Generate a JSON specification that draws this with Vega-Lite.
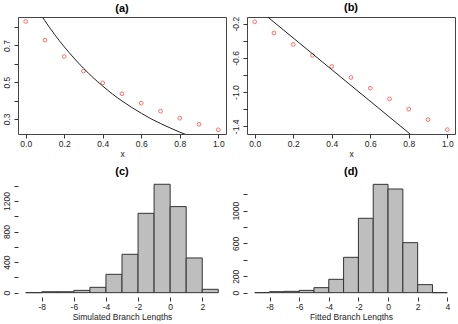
{
  "$schema": "https://vega.github.io/schema/vega-lite/v6.json",
  "padding": {"left": 1, "top": 1, "right": 0, "bottom": 0},
  "background": "white",
  "datasets": {
    "pts": [
      {"x": 0.0, "a": 0.831, "b": -0.177},
      {"x": 0.1, "a": 0.729, "b": -0.309},
      {"x": 0.2, "a": 0.640, "b": -0.442},
      {"x": 0.3, "a": 0.561, "b": -0.571},
      {"x": 0.4, "a": 0.496, "b": -0.700},
      {"x": 0.5, "a": 0.437, "b": -0.829},
      {"x": 0.6, "a": 0.386, "b": -0.954},
      {"x": 0.7, "a": 0.342, "b": -1.079},
      {"x": 0.8, "a": 0.304, "b": -1.200},
      {"x": 0.9, "a": 0.271, "b": -1.322},
      {"x": 1.0, "a": 0.241, "b": -1.439}
    ],
    "curveA": [
      {"x": 0.05, "y": 0.914}, {"x": 0.10, "y": 0.834}, {"x": 0.15, "y": 0.760},
      {"x": 0.20, "y": 0.693}, {"x": 0.25, "y": 0.632}, {"x": 0.30, "y": 0.576},
      {"x": 0.35, "y": 0.525}, {"x": 0.40, "y": 0.479}, {"x": 0.45, "y": 0.436},
      {"x": 0.50, "y": 0.398}, {"x": 0.55, "y": 0.363}, {"x": 0.60, "y": 0.331},
      {"x": 0.65, "y": 0.301}, {"x": 0.70, "y": 0.275}, {"x": 0.75, "y": 0.251},
      {"x": 0.80, "y": 0.228}, {"x": 0.85, "y": 0.208}
    ],
    "lineB": [
      {"x": 0.0, "y": 0.003},
      {"x": 0.85, "y": -1.570}
    ],
    "histC": [
      {"start": -9, "end": -8, "count": 0},
      {"start": -8, "end": -7, "count": 12},
      {"start": -7, "end": -6, "count": 12},
      {"start": -6, "end": -5, "count": 30},
      {"start": -5, "end": -4, "count": 70},
      {"start": -4, "end": -3, "count": 240},
      {"start": -3, "end": -2, "count": 502},
      {"start": -2, "end": -1, "count": 1038},
      {"start": -1, "end": 0, "count": 1418},
      {"start": 0, "end": 1, "count": 1126},
      {"start": 1, "end": 2, "count": 454},
      {"start": 2, "end": 3, "count": 44}
    ],
    "histD": [
      {"start": -9, "end": -8, "count": 0},
      {"start": -8, "end": -7, "count": 12},
      {"start": -7, "end": -6, "count": 16},
      {"start": -6, "end": -5, "count": 28},
      {"start": -5, "end": -4, "count": 61},
      {"start": -4, "end": -3, "count": 163},
      {"start": -3, "end": -2, "count": 431},
      {"start": -2, "end": -1, "count": 907},
      {"start": -1, "end": 0, "count": 1321},
      {"start": 0, "end": 1, "count": 1264},
      {"start": 1, "end": 2, "count": 610},
      {"start": 2, "end": 3, "count": 98},
      {"start": 3, "end": 4, "count": 0}
    ]
  },
  "columns": 2,
  "bounds": "flush",
  "spacing": {"row": 46, "column": 21},
  "concat": [
    {
      "width": 208, "height": 117,
      "title": {"text": "(a)"},
      "view": {"stroke": "#444", "strokeWidth": 1},
      "layer": [
        {
          "data": {"name": "pts"},
          "mark": {"type": "point", "shape": "circle", "filled": false, "color": "#ff3030", "size": 14, "strokeWidth": 1},
          "encoding": {
            "x": {"field": "x", "type": "quantitative",
                  "scale": {"domain": [-0.04, 1.04], "nice": false, "zero": false},
                  "axis": {"title": "x", "values": [0, 0.2, 0.4, 0.6, 0.8, 1.0], "format": ".1f", "domain": false}},
            "y": {"field": "a", "type": "quantitative",
                  "scale": {"domain": [0.218, 0.855], "nice": false, "zero": false},
                  "axis": {"title": null, "values": [0.3, 0.4, 0.5, 0.6, 0.7, 0.8], "format": ".1f", "domain": false,
                           "labelExpr": "indexof([3, 5, 7], round(datum.value*10)) >= 0 ? datum.label : ''"}}
          }
        },
        {
          "data": {"name": "curveA"},
          "mark": {"type": "line", "color": "#222", "strokeWidth": 1, "clip": true, "interpolate": "monotone"},
          "encoding": {
            "x": {"field": "x", "type": "quantitative",
                  "axis": {"title": "x", "values": [0, 0.2, 0.4, 0.6, 0.8, 1.0], "format": ".1f", "domain": false}},
            "y": {"field": "y", "type": "quantitative",
                  "axis": {"title": null, "values": [0.3, 0.4, 0.5, 0.6, 0.7, 0.8], "format": ".1f", "domain": false,
                           "labelExpr": "indexof([3, 5, 7], round(datum.value*10)) >= 0 ? datum.label : ''"}}
          }
        }
      ]
    },
    {
      "width": 208, "height": 117,
      "title": {"text": "(b)"},
      "view": {"stroke": "#444", "strokeWidth": 1},
      "layer": [
        {
          "data": {"name": "pts"},
          "mark": {"type": "point", "shape": "circle", "filled": false, "color": "#ff3030", "size": 14, "strokeWidth": 1},
          "encoding": {
            "x": {"field": "x", "type": "quantitative",
                  "scale": {"domain": [-0.04, 1.04], "nice": false, "zero": false},
                  "axis": {"title": "x", "values": [0, 0.2, 0.4, 0.6, 0.8, 1.0], "format": ".1f", "domain": false}},
            "y": {"field": "b", "type": "quantitative",
                  "scale": {"domain": [-1.49, -0.122], "nice": false, "zero": false},
                  "axis": {"title": null, "values": [-1.4, -1.2, -1.0, -0.8, -0.6, -0.4, -0.2], "domain": false,
                           "labelExpr": "indexof([2, 6, 10, 14], round(-datum.value*10)) >= 0 ? ('-' + format(-datum.value, '.1f')) : ''"}}
          }
        },
        {
          "data": {"name": "lineB"},
          "mark": {"type": "line", "color": "#222", "strokeWidth": 1, "clip": true},
          "encoding": {
            "x": {"field": "x", "type": "quantitative",
                  "axis": {"title": "x", "values": [0, 0.2, 0.4, 0.6, 0.8, 1.0], "format": ".1f", "domain": false}},
            "y": {"field": "y", "type": "quantitative",
                  "axis": {"title": null, "values": [-1.4, -1.2, -1.0, -0.8, -0.6, -0.4, -0.2], "domain": false,
                           "labelExpr": "indexof([2, 6, 10, 14], round(-datum.value*10)) >= 0 ? ('-' + format(-datum.value, '.1f')) : ''"}}
          }
        }
      ]
    },
    {
      "width": 208, "height": 117,
      "title": {"text": "(c)"},
      "view": {"stroke": null},
      "layer": [
        {
          "data": {"name": "histC"},
          "mark": {"type": "rect", "fill": "#bebebe", "stroke": "#333", "strokeWidth": 1},
          "encoding": {
            "x": {"field": "start", "type": "quantitative",
                  "scale": {"domain": [-9.48, 3.48], "nice": false, "zero": false},
                  "axis": {"title": "Simulated Branch Lengths", "values": [-8, -6, -4, -2, 0, 2], "domain": false,
                           "labelExpr": "'' + datum.value"}},
            "x2": {"field": "end"},
            "y": {"field": "count", "type": "quantitative",
                  "scale": {"domain": [-56.7, 1474], "nice": false, "zero": false},
                  "axis": {"title": null, "values": [0, 200, 400, 600, 800, 1000, 1200, 1400], "domain": false,
                           "labelExpr": "indexof([0, 400, 800, 1200], datum.value) >= 0 ? ('' + datum.value) : ''"}},
            "y2": {"datum": 0}
          }
        },
        {
          "mark": {"type": "rule", "color": "#333", "strokeWidth": 1},
          "encoding": {
            "x": {"datum": -8,
                  "axis": {"title": "Simulated Branch Lengths", "values": [-8, -6, -4, -2, 0, 2], "domain": false,
                           "labelExpr": "'' + datum.value"}},
            "x2": {"datum": 2},
            "y": {"datum": -56.7,
                  "axis": {"title": null, "values": [0, 200, 400, 600, 800, 1000, 1200, 1400], "domain": false,
                           "labelExpr": "indexof([0, 400, 800, 1200], datum.value) >= 0 ? ('' + datum.value) : ''"}}
          }
        },
        {
          "mark": {"type": "rule", "color": "#333", "strokeWidth": 1},
          "encoding": {
            "x": {"datum": -9.48,
                  "axis": {"title": "Simulated Branch Lengths", "values": [-8, -6, -4, -2, 0, 2], "domain": false,
                           "labelExpr": "'' + datum.value"}},
            "y": {"datum": 0,
                  "axis": {"title": null, "values": [0, 200, 400, 600, 800, 1000, 1200, 1400], "domain": false,
                           "labelExpr": "indexof([0, 400, 800, 1200], datum.value) >= 0 ? ('' + datum.value) : ''"}},
            "y2": {"datum": 1400}
          }
        }
      ]
    },
    {
      "width": 208, "height": 117,
      "title": {"text": "(d)"},
      "view": {"stroke": null},
      "layer": [
        {
          "data": {"name": "histD"},
          "mark": {"type": "rect", "fill": "#bebebe", "stroke": "#333", "strokeWidth": 1},
          "encoding": {
            "x": {"field": "start", "type": "quantitative",
                  "scale": {"domain": [-9.52, 4.52], "nice": false, "zero": false},
                  "axis": {"title": "Fitted Branch Lengths", "values": [-8, -6, -4, -2, 0, 2, 4], "domain": false,
                           "labelExpr": "'' + datum.value"}},
            "x2": {"field": "end"},
            "y": {"field": "count", "type": "quantitative",
                  "scale": {"domain": [-52.8, 1373.8], "nice": false, "zero": false},
                  "axis": {"title": null, "values": [0, 200, 400, 600, 800, 1000, 1200], "domain": false,
                           "labelExpr": "indexof([0, 200, 600, 1000], datum.value) >= 0 ? ('' + datum.value) : ''"}},
            "y2": {"datum": 0}
          }
        },
        {
          "mark": {"type": "rule", "color": "#333", "strokeWidth": 1},
          "encoding": {
            "x": {"datum": -8,
                  "axis": {"title": "Fitted Branch Lengths", "values": [-8, -6, -4, -2, 0, 2, 4], "domain": false,
                           "labelExpr": "'' + datum.value"}},
            "x2": {"datum": 4},
            "y": {"datum": -52.8,
                  "axis": {"title": null, "values": [0, 200, 400, 600, 800, 1000, 1200], "domain": false,
                           "labelExpr": "indexof([0, 200, 600, 1000], datum.value) >= 0 ? ('' + datum.value) : ''"}}
          }
        },
        {
          "mark": {"type": "rule", "color": "#333", "strokeWidth": 1},
          "encoding": {
            "x": {"datum": -9.52,
                  "axis": {"title": "Fitted Branch Lengths", "values": [-8, -6, -4, -2, 0, 2, 4], "domain": false,
                           "labelExpr": "'' + datum.value"}},
            "y": {"datum": 0,
                  "axis": {"title": null, "values": [0, 200, 400, 600, 800, 1000, 1200], "domain": false,
                           "labelExpr": "indexof([0, 200, 600, 1000], datum.value) >= 0 ? ('' + datum.value) : ''"}},
            "y2": {"datum": 1200}
          }
        }
      ]
    }
  ],
  "config": {
    "font": "Liberation Sans",
    "title": {"font": "Liberation Sans", "fontSize": 11, "fontWeight": "bold", "color": "#000", "offset": 3, "anchor": "middle"},
    "axis": {
      "grid": false,
      "labelFont": "Liberation Sans", "labelFontSize": 8.5, "labelColor": "#222",
      "titleFont": "Liberation Sans", "titleFontSize": 8.5, "titleFontWeight": "normal", "titleColor": "#222",
      "tickColor": "#333", "tickSize": 4, "labelOverlap": false, "labelFlush": false
    },
    "axisX": {"labelPadding": 1, "titlePadding": 2},
    "axisY": {"labelAngle": -90, "labelAlign": "center", "labelBaseline": "bottom", "labelPadding": 3}
  }
}
